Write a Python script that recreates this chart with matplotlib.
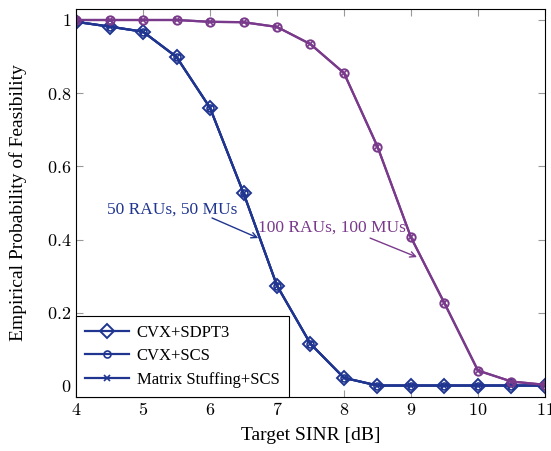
import matplotlib.pyplot as plt

plt.rcParams['font.family'] = ['Liberation Serif', 'DejaVu Serif']
plt.rcParams['mathtext.fontset'] = 'cm'

# Target SINR [dB]
sinr = [4, 4.5, 5, 5.5, 6, 6.5, 7, 7.5, 8, 8.5, 9, 9.5, 10, 10.5, 11]

# 50 RAUs, 50 MUs
p50 = [0.995, 0.982, 0.968, 0.899, 0.760, 0.527, 0.274, 0.115, 0.022, 0.001, 0.001, 0.001, 0.001, 0.001, 0.001]
# 100 RAUs, 100 MUs
p100 = [1.0, 1.0, 1.0, 1.0, 0.995, 0.994, 0.981, 0.934, 0.855, 0.654, 0.406, 0.226, 0.042, 0.012, 0.003]

xticks = [4, 5, 6, 7, 8, 9, 10, 11]
yticks = [0, 0.2, 0.4, 0.6, 0.8, 1]
ytick_labels = ['0', '0.2', '0.4', '0.6', '0.8', '1']

blue = '#1f3590'
purple = '#7a3a8c'

fig = plt.figure(figsize=(5.51, 4.51), dpi=100)
ax = fig.add_axes([0.138, 0.120, 0.851, 0.860])

# 50 RAUs: all three solvers overlap
ax.plot(sinr, p50, color=blue, lw=1.6, marker='D', ms=7, mfc='none', mew=1.4, label='CVX+SDPT3')
ax.plot(sinr, p50, color=blue, lw=1.6, marker='o', ms=5, mfc='none', mew=1.2, label='CVX+SCS')
ax.plot(sinr, p50, color=blue, lw=1.6, marker='x', ms=4, mew=1.2, label='Matrix Stuffing+SCS')
# 100 RAUs
ax.plot(sinr, p100, color=purple, lw=1.6, marker='o', ms=6, mfc='none', mew=1.4)
ax.plot(sinr, p100, color=purple, lw=1.6, marker='x', ms=4, mew=1.2)

ax.text(5.43, 0.481, '50 RAUs, 50 MUs', color=blue, fontsize=12.5, ha='center', va='center')
ax.annotate('', xy=(6.72, 0.404), xytext=(6.03, 0.459),
            arrowprops=dict(arrowstyle='->', color=blue, lw=1.0, shrinkA=0, shrinkB=0))
ax.text(7.82, 0.432, '100 RAUs, 100 MUs', color=purple, fontsize=12.5, ha='center', va='center')
ax.annotate('', xy=(9.09, 0.352), xytext=(8.39, 0.404),
            arrowprops=dict(arrowstyle='->', color=purple, lw=1.0, shrinkA=0, shrinkB=0))

ax.set_xlim(4, 11)
ax.set_ylim(-0.03, 1.03)
ax.set_xticks(xticks)
ax.set_xticklabels(['$%d$' % t for t in xticks])
ax.set_yticks(yticks)
ax.set_yticklabels(['$%s$' % t for t in ytick_labels])
ax.tick_params(direction='in', top=True, right=True, length=5, color='#999999', labelsize=13)
for s in ax.spines.values():
    s.set_linewidth(0.8)
ax.set_xlabel('Target SINR [dB]', fontsize=14, labelpad=6)
ax.set_ylabel('Empirical Probability of Feasibility', fontsize=14, labelpad=14)

leg = ax.legend(loc='lower left', fontsize=12, fancybox=False, framealpha=1,
                edgecolor='black', borderaxespad=0, handlelength=2.6,
                handletextpad=0.5, labelspacing=0.45, borderpad=0.55)
leg.get_frame().set_linewidth(0.8)

fig.savefig('out.png', dpi=100)
